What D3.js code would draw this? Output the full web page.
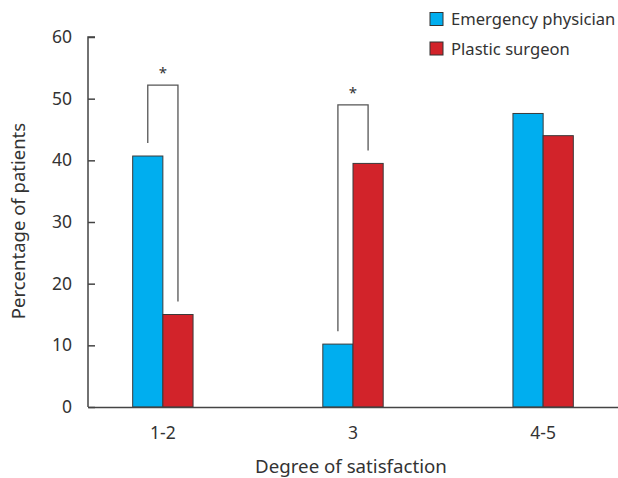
<!DOCTYPE html>
<html>
<head>
<meta charset="utf-8">
<script src="https://cdn.jsdelivr.net/npm/d3@7"></script>
<style>
  body { margin: 0; background: #fff; }
  text { font-family: "Noto Sans", sans-serif; fill: #333; }
</style>
</head>
<body>
<div id="plot"></div>
<script>
// Data
const categories = ["1-2", "3", "4-5"];
const seriesNames = ["Emergency physician", "Plastic surgeon"];
const emergencyValues = [40.7, 10.2, 47.6];
const plasticValues = [15.0, 39.5, 44.0];
const yTicks = [0, 10, 20, 30, 40, 50, 60];
// significance brackets: category, bracket top value
const brackets = [
  {cat: "1-2", top: 52.2},
  {cat: "3", top: 49.0}
];

const width = 618, height = 478;
const margin = {top: 37, right: 0, bottom: 71, left: 88};

const svg = d3.select("#plot")
  .append("svg")
  .attr("width", width)
  .attr("height", height);

const table = categories.map((c, i) => ({
  category: c,
  values: [
    {series: seriesNames[0], value: emergencyValues[i]},
    {series: seriesNames[1], value: plasticValues[i]}
  ]
}));

const x = d3.scaleBand()
  .domain(categories)
  .range([margin.left, width - margin.right])
  .paddingInner(0.6825)
  .paddingOuter(0.235);

const xSub = d3.scaleBand()
  .domain(seriesNames)
  .range([0, x.bandwidth()]);

const y = d3.scaleLinear()
  .domain([0, 60])
  .range([height - margin.bottom, margin.top]);

const color = d3.scaleOrdinal()
  .domain(seriesNames)
  .range(["#00aeef", "#d2232a"]);

// bars
const groups = svg.selectAll(".group")
  .data(table)
  .join("g")
  .attr("class", "group")
  .attr("transform", d => `translate(${x(d.category)},0)`);

groups.selectAll("rect")
  .data(d => d.values)
  .join("rect")
  .attr("x", d => xSub(d.series))
  .attr("width", xSub.bandwidth())
  .attr("y", d => y(d.value))
  .attr("height", d => y(0) - y(d.value))
  .attr("fill", d => color(d.series))
  .attr("stroke", "#3a3a3a")
  .attr("stroke-width", 1);

// y axis with inward ticks
const yAxis = svg.append("g")
  .attr("transform", `translate(${margin.left},0)`)
  .call(d3.axisRight(y).tickValues(yTicks).tickSize(7).tickFormat(d3.format("d")));
yAxis.select(".domain").attr("stroke", "#444").attr("stroke-width", 1.5).attr("d", `M7,${y(60)}H0V${y(0)}`);
yAxis.selectAll(".tick line").attr("stroke", "#444").attr("stroke-width", 1.5);
yAxis.selectAll(".tick text")
  .attr("x", -16)
  .attr("text-anchor", "end")
  .style("font-size", "17.5px")
  .style("font-family", "'Noto Sans', sans-serif")
  .attr("fill", "#333");

// x axis, no ticks
const xAxis = svg.append("g")
  .attr("transform", `translate(0,${y(0)})`)
  .call(d3.axisBottom(x).tickSize(0).tickPadding(20));
xAxis.select(".domain").attr("stroke", "#444").attr("stroke-width", 1.5);
xAxis.selectAll(".tick text")
  .style("font-size", "17.5px")
  .style("font-family", "'Noto Sans', sans-serif")
  .attr("fill", "#333");

// axis titles
svg.append("text")
  .attr("text-anchor", "middle")
  .attr("x", 351)
  .attr("y", 473)
  .style("font-size", "18.7px")
  .text("Degree of satisfaction");

svg.append("text")
  .attr("text-anchor", "middle")
  .attr("transform", "rotate(-90)")
  .attr("x", -221)
  .attr("y", 25)
  .style("font-size", "18.5px")
  .text("Percentage of patients");

// significance brackets
const gap = 2.1;
brackets.forEach(b => {
  const i = categories.indexOf(b.cat);
  const x0 = x(b.cat) + xSub(seriesNames[0]) + xSub.bandwidth() / 2;
  const x1 = x(b.cat) + xSub(seriesNames[1]) + xSub.bandwidth() / 2;
  const yl = y(emergencyValues[i] + gap);
  const yr = y(plasticValues[i] + gap);
  const yt = y(b.top);
  svg.append("path")
    .attr("d", `M${x0},${yl}V${yt}H${x1}V${yr}`)
    .attr("fill", "none")
    .attr("stroke", "#555")
    .attr("stroke-width", 1.3);
  svg.append("text")
    .attr("x", (x0 + x1) / 2)
    .attr("y", yt - 7)
    .attr("text-anchor", "middle")
    .style("font-size", "15px")
    .text("*");
});

// legend
const legend = svg.append("g")
  .attr("transform", "translate(430,12.5)");

const items = legend.selectAll("g")
  .data(seriesNames)
  .join("g")
  .attr("transform", (d, i) => `translate(0,${i * 29.5})`);

items.append("rect")
  .attr("width", 13)
  .attr("height", 13)
  .attr("fill", d => color(d))
  .attr("stroke", "#333")
  .attr("stroke-width", 1);

items.append("text")
  .attr("x", 21)
  .attr("y", 12.5)
  .style("font-size", "16.6px")
  .text(d => d);
</script>
</body>
</html>
